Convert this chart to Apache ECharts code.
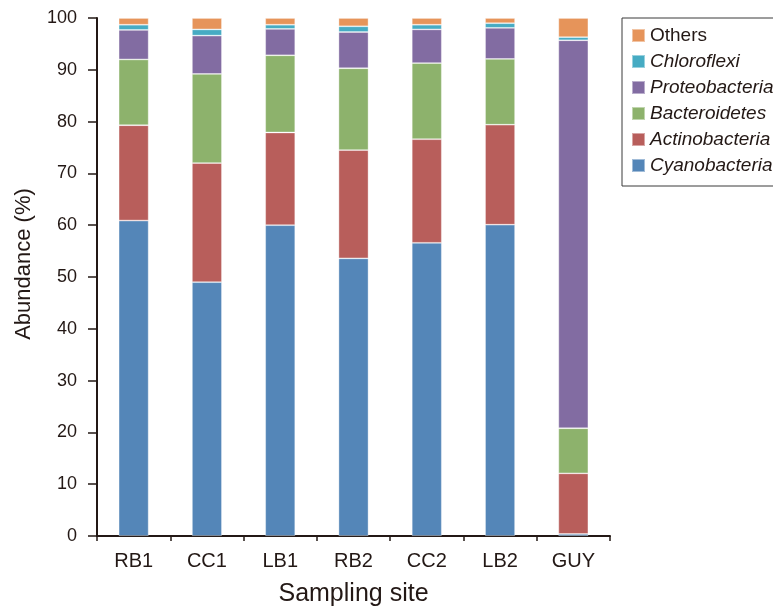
<!DOCTYPE html>
<html>
<head>
<meta charset="utf-8">
<script src="https://cdn.jsdelivr.net/npm/echarts@6/dist/echarts.min.js"></script>
<style>
  html, body { margin: 0; padding: 0; background: #fff; }
  #chart { width: 773px; height: 606px; }
</style>
</head>
<body>
<div id="chart"></div>
<script>
// Sampling sites along the x axis
const sites = ['RB1', 'CC1', 'LB1', 'RB2', 'CC2', 'LB2', 'GUY'];

// Relative abundance (%) of each phylum per site, stacked bottom to top
const cyanobacteria  = [60.9, 49.0, 60.0, 53.6, 56.6, 60.1, 0.4];
const actinobacteria = [18.4, 23.0, 17.9, 20.9, 20.0, 19.3, 11.7];
const bacteroidetes  = [12.7, 17.2, 14.9, 15.8, 14.7, 12.7, 8.7];
const proteobacteria = [5.7, 7.4, 5.1, 7.0, 6.5, 6.0, 74.9];
const chloroflexi    = [1.0, 1.2, 0.8, 1.1, 0.9, 0.9, 0.6];
const others         = [1.3, 2.2, 1.3, 1.6, 1.3, 1.0, 3.7];

const yTicks = [0, 10, 20, 30, 40, 50, 60, 70, 80, 90, 100];

const groups = [
  { name: 'Cyanobacteria',  data: cyanobacteria,  color: '#5486b8', italic: true },
  { name: 'Actinobacteria', data: actinobacteria, color: '#b85e5b', italic: true },
  { name: 'Bacteroidetes',  data: bacteroidetes,  color: '#8db26c', italic: true },
  { name: 'Proteobacteria', data: proteobacteria, color: '#826ca2', italic: true },
  { name: 'Chloroflexi',    data: chloroflexi,    color: '#46abc3', italic: true },
  { name: 'Others',         data: others,         color: '#e6945a', italic: false }
];

const ink = '#231815';
const font = '"Liberation Sans", Arial, Helvetica, sans-serif';

const chart = echarts.init(document.getElementById('chart'), null, { renderer: 'canvas' });

chart.setOption({
  animation: false,
  backgroundColor: '#ffffff',
  textStyle: { fontFamily: font, color: ink },
  grid: { left: 97, right: 163, top: 18, bottom: 70, containLabel: false, outerBoundsMode: 'none' },
  legend: {
    orient: 'vertical',
    left: 622,
    top: 18,
    padding: [8, 8, 11, 9],
    itemWidth: 13,
    itemHeight: 13,
    itemGap: 7,
    icon: 'rect',
    borderColor: '#3a3a3a',
    borderWidth: 1,
    data: groups.slice().reverse().map(g => g.name),
    formatter: name => {
      const g = groups.find(x => x.name === name);
      return g.italic ? '{i|' + name + '}' : '{n|' + name + '}';
    },
    textStyle: {
      fontFamily: font,
      fontSize: 19,
      lineHeight: 18,
      color: ink,
      rich: {
        i: { fontFamily: font, fontSize: 19, fontStyle: 'italic', color: ink, lineHeight: 18 },
        n: { fontFamily: font, fontSize: 19, color: ink, lineHeight: 18 }
      }
    }
  },
  xAxis: {
    type: 'category',
    data: sites,
    name: 'Sampling site',
    nameLocation: 'middle',
    nameGap: 46,
    nameTextStyle: { fontFamily: font, fontSize: 25, color: ink },
    axisLine: { show: true, lineStyle: { color: ink, width: 2 } },
    axisTick: { show: true, interval: 0, alignWithLabel: false, length: 5, lineStyle: { color: ink, width: 1.5 } },
    axisLabel: { fontFamily: font, fontSize: 20, color: ink, margin: 15, interval: 0 },
    splitLine: { show: false }
  },
  yAxis: {
    type: 'value',
    min: yTicks[0],
    max: yTicks[yTicks.length - 1],
    interval: yTicks[1] - yTicks[0],
    name: 'Abundance (%)',
    nameLocation: 'middle',
    nameGap: 62,
    nameTextStyle: { fontFamily: font, fontSize: 22, color: ink, padding: [0, 0, 0, 26] },
    axisLine: { show: true, lineStyle: { color: ink, width: 2 } },
    axisTick: { show: true, inside: false, length: 9, lineStyle: { color: ink, width: 1.5 } },
    axisLabel: { fontFamily: font, fontSize: 18, color: ink, margin: 20 },
    splitLine: { show: false }
  },
  series: groups.map(g => ({
    name: g.name,
    type: 'bar',
    stack: 'abundance',
    barWidth: 30,
    data: g.data,
    itemStyle: { color: g.color, borderColor: 'rgba(255,255,255,0.45)', borderWidth: 0.8 },
    emphasis: { disabled: true }
  }))
});
</script>
</body>
</html>
